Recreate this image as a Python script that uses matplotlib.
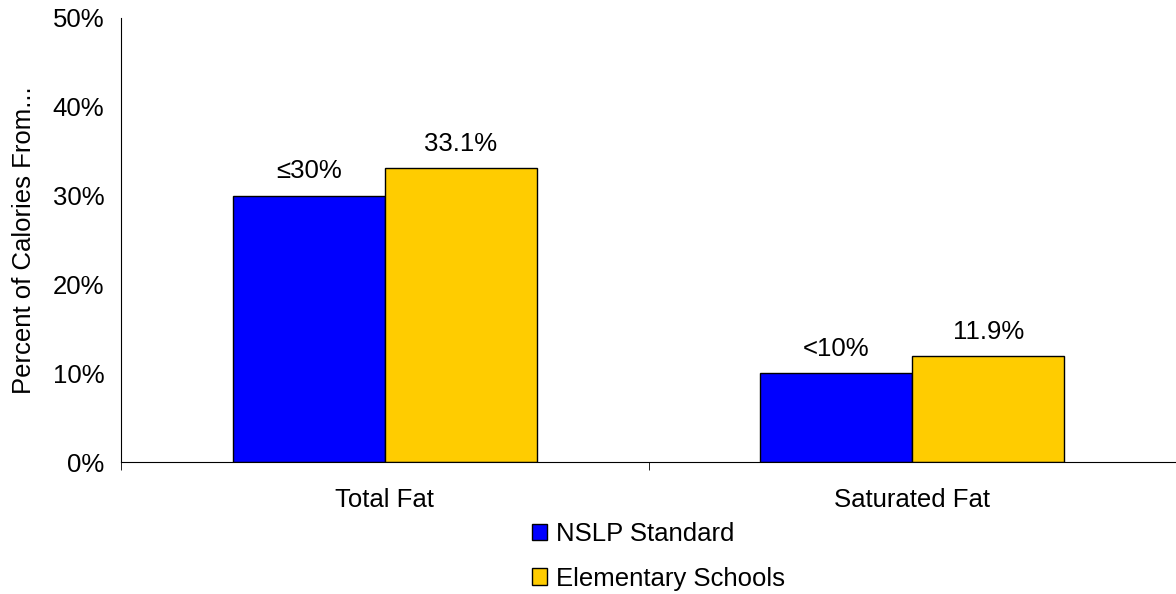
import numpy as np
import matplotlib
matplotlib.use('Agg')
import matplotlib.pyplot as plt
from matplotlib.ticker import PercentFormatter

plt.rcParams['font.family'] = ['Liberation Sans', 'DejaVu Sans']

categories = ['Total Fat', 'Saturated Fat']
series_names = ['NSLP Standard', 'Elementary Schools']
nslp = [30, 10]
elementary = [33.1, 11.9]
nslp_labels = ['\u226430%', '<10%']
elem_labels = ['33.1%', '11.9%']
colors = ['#0000ff', '#ffcc00']

fs = 18.5

fig = plt.figure(figsize=(11.76, 5.94), dpi=100)
ax = fig.add_axes([0.1029, 0.2222, 0.8971, 0.7475])

x = np.arange(len(categories))
w = 0.288
b1 = ax.bar(x - w / 2, nslp, w, color=colors[0], edgecolor='black', linewidth=1, label=series_names[0])
b2 = ax.bar(x + w / 2, elementary, w, color=colors[1], edgecolor='black', linewidth=1, label=series_names[1])

# value labels above bars
for bars, labels in [(b1, nslp_labels), (b2, elem_labels)]:
  for r, lab in zip(bars, labels):
    ax.text(r.get_x() + r.get_width() / 2, r.get_height() + 1.4, lab,
            ha='center', va='bottom', fontsize=fs)

ax.set_xlim(-0.5, 1.5)
ax.set_ylim(0, 50)
ax.set_yticks(np.arange(0, 51, 10))
ax.yaxis.set_major_formatter(PercentFormatter(decimals=0))
ax.set_xticks([0, 1])
ax.set_xticklabels(categories)
ax.set_xticks([-0.5, 0.5, 1.5], minor=True)
ax.tick_params(axis='x', which='major', length=0, labelsize=fs, pad=19)
ax.tick_params(axis='x', which='minor', length=6, direction='out')
ax.tick_params(axis='y', length=0, labelsize=fs, pad=12)
ax.spines['top'].set_visible(False)
ax.spines['right'].set_visible(False)
ax.set_ylabel('Percent of Calories From...', fontsize=fs, labelpad=12)

fig.legend(loc='upper left', bbox_to_anchor=(0.4524, 0.1212), ncol=1, frameon=False,
           fontsize=fs, handlelength=0.6, handleheight=0.6, handletextpad=0.35,
           labelspacing=0.8, borderpad=0, borderaxespad=0)

plt.savefig('out.png', dpi=100)
plt.close()
